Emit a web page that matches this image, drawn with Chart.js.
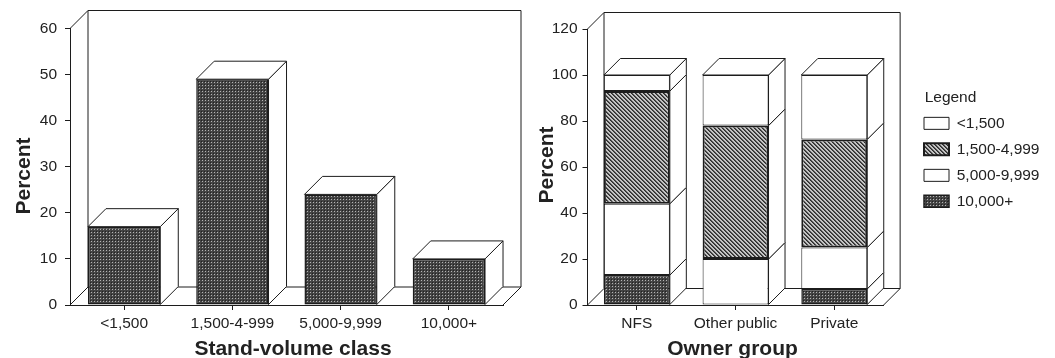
<!DOCTYPE html>
<html>
<head>
<meta charset="utf-8">
<script src="https://cdn.jsdelivr.net/npm/chart.js@4"></script>
<style>
  body { margin: 0; background: #fff; }
  canvas { position: absolute; top: 0; }
</style>
</head>
<body>
<canvas id="classChart" width="530" height="358" style="left:0"></canvas>
<canvas id="ownerChart" width="525" height="358" style="left:530px"></canvas>
<script>
// percent of area by stand-volume class
var classLabels = ["<1,500", "1,500-4-999", "5,000-9,999", "10,000+"];
var classValues = [17, 49, 24, 10];

// percent of each owner group, one array per class
var ownerLabels = ["NFS", "Other public", "Private"];
var under1500 = [7, 22, 28];
var from1500 = [49, 58, 47];
var from5000 = [31, 20, 18];
var over10000 = [13, 0, 7];

Chart.defaults.font.family = "'Liberation Sans', Arial, sans-serif";
Chart.defaults.font.size = 15.5;
Chart.defaults.color = '#222';
Chart.defaults.animation = false;

var INK = '#1c1c1c';

function tile(size, paint) {
    var c = document.createElement('canvas');
    c.width = c.height = size;
    paint(c.getContext('2d'));
    return c.getContext('2d').createPattern(c, 'repeat');
}

var dots = tile(3, function (g) {
    g.fillStyle = '#444';
    g.fillRect(0, 0, 3, 3);
    g.fillStyle = '#b4b4b4';
    g.fillRect(1, 1, 1, 1);
    g.fillStyle = '#222';
    g.fillRect(0, 0, 1, 1);
});

var hatch = tile(4, function (g) {
    g.fillStyle = '#c4c4c4';
    g.fillRect(0, 0, 4, 4);
    for (var i = 0; i < 4; i++) {
        g.fillStyle = '#2c2c2c';
        g.fillRect(i, i, 1, 1);
        g.fillStyle = '#555';
        g.fillRect((i + 1) % 4, i, 1, 1);
    }
});

function quad(g, pts) {
    g.beginPath();
    g.moveTo(pts[0][0], pts[0][1]);
    for (var i = 1; i < pts.length; i++) g.lineTo(pts[i][0], pts[i][1]);
    g.closePath();
    g.fill();
    g.stroke();
}

// back wall, floor and the side and top faces of the bars
var box3d = {
    id: 'box3d',
    beforeDatasetsDraw: function (chart, args, opts) {
        var g = chart.ctx, a = chart.chartArea, d = opts.depth;
        g.save();
        g.strokeStyle = INK;
        g.lineWidth = 1;
        g.fillStyle = '#fff';
        g.beginPath();
        g.moveTo(a.left, a.top);
        g.lineTo(a.left + d, a.top - d);
        g.lineTo(a.right + d, a.top - d);
        g.lineTo(a.right + d, a.bottom - d);
        g.lineTo(a.right, a.bottom);
        g.moveTo(a.left, a.bottom);
        g.lineTo(a.left + d, a.bottom - d);
        g.lineTo(a.right + d, a.bottom - d);
        g.moveTo(a.left + d, a.top - d);
        g.lineTo(a.left + d, a.bottom - d);
        g.stroke();

        chart.data.datasets.forEach(function (ds, i) {
            chart.getDatasetMeta(i).data.forEach(function (bar, j) {
                if (!ds.data[j]) return;
                var b = bar.getProps(['x', 'y', 'base', 'width'], true);
                var r = b.x + b.width / 2, l = b.x - b.width / 2;
                quad(g, [[r, b.y], [r + d, b.y - d], [r + d, b.base - d], [r, b.base]]);
                var top = chart.data.datasets.slice(i + 1).every(function (o) { return !o.data[j]; });
                if (top) quad(g, [[l, b.y], [l + d, b.y - d], [r + d, b.y - d], [r, b.y]]);
            });
        });
        g.restore();
    }
};

// axis titles sit a little off the scale centres, so they are placed by hand
var axisTitles = {
    id: 'axisTitles',
    afterDraw: function (chart, args, opts) {
        var g = chart.ctx;
        g.save();
        g.fillStyle = '#222';
        g.font = "bold 21px 'Liberation Sans', Arial, sans-serif";
        g.textAlign = 'center';
        g.textBaseline = 'alphabetic';
        g.fillText(opts.xText, opts.xAt, 355);
        g.translate(opts.yAt, opts.yMid);
        g.rotate(-Math.PI / 2);
        g.fillText('Percent', 0, 0);
        g.restore();
    }
};

// puts the legend box in the free space right of the plot
var legendSpot = {
    id: 'legendSpot',
    afterLayout: function (chart, args, opts) {
        var lg = chart.legend;
        var h = lg.bottom - lg.top;
        lg.left = opts.left;
        lg.right = chart.width;
        lg.width = opts.titleWidth;
        lg.top = opts.top;
        lg.bottom = opts.top + h;
    }
};

function scales(yMax, yStep, yWidth, tickPad) {
    return {
        x: {
            grid: { offset: false, drawOnChartArea: false, color: INK, tickLength: 5 },
            border: { color: INK },
            ticks: { padding: 4, maxRotation: 0, autoSkip: false },
            stacked: true,
            afterFit: function (s) { s.height = 53; s.paddingLeft = s.paddingRight = 0; }
        },
        y: {
            min: 0, max: yMax,
            grid: { drawOnChartArea: false, color: INK, tickLength: 5 },
            border: { color: INK },
            ticks: { stepSize: yStep, padding: tickPad },
            stacked: true,
            afterFit: function (s) { s.width = yWidth; s.paddingTop = s.paddingBottom = 0; }
        }
    };
}

function series(label, data, fill, edge) {
    return { label: label, data: data, backgroundColor: fill, borderColor: INK, borderWidth: edge,
             borderSkipped: false, barPercentage: 1, categoryPercentage: 0.668 };
}

new Chart(document.getElementById('classChart'), {
    type: 'bar',
    data: {
        labels: classLabels,
        datasets: [series('Percent', classValues, dots, 1.5)]
    },
    plugins: [box3d, axisTitles],
    options: {
        responsive: false,
        layout: { padding: { top: 28.5, right: 27, bottom: 0, left: 0 } },
        plugins: {
            legend: { display: false },
            tooltip: { enabled: false },
            box3d: { depth: 18 },
            axisTitles: { xText: 'Stand-volume class', xAt: 293, yAt: 30, yMid: 176 }
        },
        scales: scales(60, 10, 70, 8)
    }
});

new Chart(document.getElementById('ownerChart'), {
    type: 'bar',
    data: {
        labels: ownerLabels,
        datasets: [
            series('10,000+', over10000, dots, 1.5),
            series('5,000-9,999', from5000, '#fff', 1),
            series('1,500-4,999', from1500, hatch, 2),
            series('<1,500', under1500, '#fff', 1)
        ]
    },
    plugins: [box3d, axisTitles, legendSpot],
    options: {
        responsive: false,
        layout: { padding: { top: 29, right: 53.5, bottom: 0, left: 0 } },
        plugins: {
            tooltip: { enabled: false },
            box3d: { depth: 16.5 },
            axisTitles: { xText: 'Owner group', xAt: 202.5, yAt: 23, yMid: 165 },
            legendSpot: { left: 383.5, top: 76, titleWidth: 74 },
            legend: {
                position: 'right',
                align: 'start',
                reverse: true,
                title: { display: true, text: 'Legend', position: 'center', color: '#222', padding: { top: 14, bottom: -3.5 } },
                labels: { boxWidth: 25, boxHeight: 12, padding: 10.5, color: '#222' }
            }
        },
        scales: scales(120, 20, 57.5, 5)
    }
});
</script>
</body>
</html>
